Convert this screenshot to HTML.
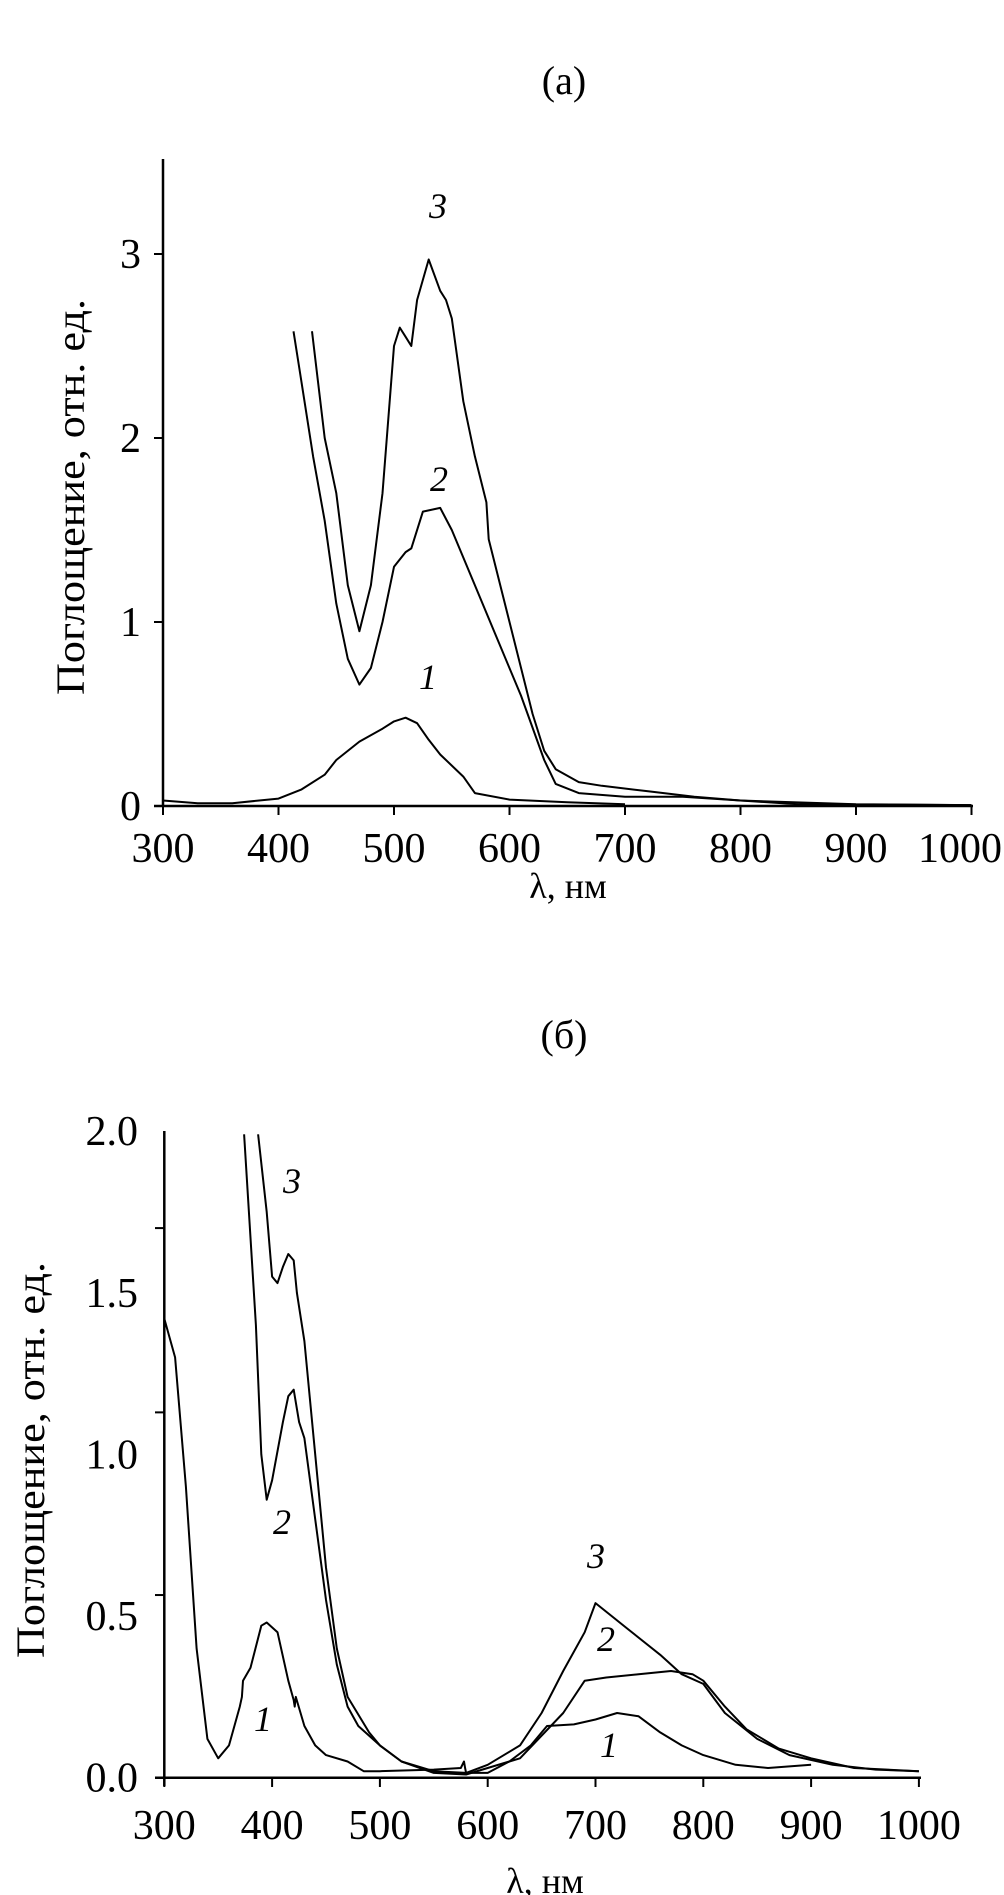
<!DOCTYPE html>
<html><head><meta charset="utf-8"><style>
body{margin:0;background:#fff}
svg{display:block;font-family:"Liberation Serif","DejaVu Serif",serif}
</style></head><body>
<svg id="fig" width="1004" height="1895" viewBox="0 0 1004 1895"></svg>
<script>
// ---------- Panel (a) data ----------
const aX1 = [300,330,360,400,420,440,450,470,490,500,510,520,530,540,560,570,600,650,700];
const aY1 = [0.03,0.015,0.015,0.04,0.09,0.17,0.25,0.35,0.42,0.46,0.48,0.45,0.36,0.28,0.16,0.07,0.035,0.02,0.01];
const aX2 = [413,418,420,430,440,450,460,470,480,490,500,510,515,525,540,550,570,590,610,630,640,660,700,750,800,900,1000];
const aY2 = [2.58,2.38,2.3,1.9,1.55,1.1,0.8,0.66,0.75,1.0,1.3,1.38,1.4,1.6,1.62,1.5,1.2,0.9,0.6,0.25,0.12,0.07,0.05,0.05,0.03,0.01,0.005];
const aX3 = [429,440,450,460,470,480,490,500,505,510,515,520,530,540,545,550,560,570,580,582,600,620,630,640,660,680,720,760,800,850,1000];
const aY3 = [2.58,2.0,1.7,1.2,0.95,1.2,1.7,2.5,2.6,2.55,2.5,2.75,2.97,2.8,2.75,2.65,2.2,1.9,1.65,1.45,1.0,0.5,0.3,0.2,0.13,0.11,0.08,0.05,0.03,0.01,0.005];
const aXTicks = [300,400,500,600,700,800,900,1000];
const aYTicks = [0,1,2,3];

// ---------- Panel (б) data ----------
const bX1 = [300,310,320,330,340,350,360,370,372,373,380,390,395,405,415,420,421,422,430,440,450,470,485,500,550,575,578,579,580,600,620,640,655,680,700,720,740,760,780,800,830,860,900];
const bY1 = [1.42,1.3,0.9,0.4,0.12,0.06,0.1,0.22,0.25,0.3,0.34,0.47,0.48,0.45,0.3,0.24,0.22,0.25,0.16,0.1,0.07,0.05,0.02,0.02,0.025,0.03,0.05,0.03,0.015,0.015,0.05,0.1,0.16,0.165,0.18,0.2,0.19,0.14,0.1,0.07,0.04,0.03,0.04];
const bX2 = [374,385,390,395,400,410,415,420,425,430,440,450,460,470,480,500,520,550,580,600,630,650,670,690,710,740,770,790,800,820,840,870,900,940,1000];
const bY2 = [1.99,1.4,1.0,0.86,0.92,1.1,1.18,1.2,1.1,1.05,0.8,0.55,0.35,0.22,0.16,0.1,0.05,0.015,0.01,0.03,0.06,0.13,0.2,0.3,0.31,0.32,0.33,0.32,0.3,0.22,0.15,0.09,0.06,0.03,0.02];
const bX3 = [387,395,400,405,410,415,420,423,430,440,450,460,470,490,500,520,550,580,600,630,650,670,690,700,730,760,780,800,820,850,880,920,960,1000];
const bY3 = [1.99,1.75,1.55,1.53,1.58,1.62,1.6,1.5,1.35,1.0,0.65,0.4,0.25,0.14,0.1,0.05,0.02,0.015,0.04,0.1,0.2,0.33,0.45,0.54,0.46,0.38,0.32,0.29,0.2,0.12,0.07,0.04,0.025,0.02];
const bXTicks = [300,400,500,600,700,800,900,1000];
const bYLabels = ["0.0","0.5","1.0","1.5","2.0"];
const bYLabelVals = [0,0.5,1.0,1.5,2.0];
const bYTickVals = [0,0.565,1.13,1.7];

const NS = "http://www.w3.org/2000/svg";
const svg = document.getElementById('fig');
function el(tag, attrs, parent){const e=document.createElementNS(NS,tag);for(const k in attrs)e.setAttribute(k,attrs[k]);(parent||svg).appendChild(e);return e;}

const ax = v => 163 + (v-300)*1.155;
const ay = v => 806 - v*184;
const bx = v => 164.3 + (v-300)*1.078;
const by = v => 1777.7 - v*323.3;

function curve(xs, ys, fx, fy, name){
  let d = '';
  xs.forEach((x,i)=>{ d += (i?'L':'M') + fx(x).toFixed(1) + ' ' + fy(ys[i]).toFixed(1) + ' '; });
  const p = el('path',{d:d,fill:'none',stroke:'#000','stroke-width':2,'stroke-linejoin':'round'});
  
  
}
function text(x,y,s,size,name,extra){
  const t = el('text',Object.assign({x:x,y:y,'font-size':size,'text-anchor':'middle'},extra||{}));
  t.textContent = s;
  
  
  return t;
}

// ---- Panel (a) ----
text(564,94,'(а)',40,'panel-a-title');
let line = el('line',{x1:163,y1:159,x2:163,y2:806,stroke:'#000','stroke-width':2.5});


line = el('line',{x1:154,y1:806,x2:973,y2:806,stroke:'#000','stroke-width':2.5});


aXTicks.forEach(v=>{
  const t = el('line',{x1:ax(v),y1:806,x2:ax(v),y2:815,stroke:'#000','stroke-width':2});
  
  
  const x = Math.min(ax(v), 1002 - 42);
  text(x,862,String(v),42,'a-x-tick-label');
});
aYTicks.forEach(v=>{
  const t = el('line',{x1:154,y1:ay(v),x2:163,y2:ay(v),stroke:'#000','stroke-width':2});
  
  
  text(141,ay(v)+14,String(v),42,'a-y-tick-label',{'text-anchor':'end'});
});
text(568,898,'λ, нм',36,'a-x-axis-title');
text(0,0,'Поглощение, отн. ед.',40,'a-y-axis-title',{transform:'translate(84,497) rotate(-90)',textLength:396,lengthAdjust:'spacingAndGlyphs'});
curve(aX1,aY1,ax,ay,'a-curve-1');
curve(aX2,aY2,ax,ay,'a-curve-2');
curve(aX3,aY3,ax,ay,'a-curve-3');
text(438,218,'3',36,'a-label-3',{'font-style':'italic'});
text(439,491,'2',36,'a-label-2',{'font-style':'italic'});
text(428,689,'1',36,'a-label-1',{'font-style':'italic'});

// ---- Panel (б) ----
text(564,1048,'(б)',40,'panel-b-title');
line = el('line',{x1:164.3,y1:1131,x2:164.3,y2:1786,stroke:'#000','stroke-width':2.5});


line = el('line',{x1:155,y1:1777.7,x2:921,y2:1777.7,stroke:'#000','stroke-width':2.5});


bXTicks.forEach(v=>{
  const t = el('line',{x1:bx(v),y1:1777.7,x2:bx(v),y2:1787,stroke:'#000','stroke-width':2});
  
  
  text(bx(v),1839,String(v),42,'b-x-tick-label');
});
bYTickVals.forEach(v=>{
  const t = el('line',{x1:155,y1:by(v),x2:164.3,y2:by(v),stroke:'#000','stroke-width':2});
  
  
});
bYLabelVals.forEach((v,i)=>{
  text(138,by(v)+14,bYLabels[i],42,'b-y-tick-label',{'text-anchor':'end'});
});
text(545,1893,'λ, нм',36,'b-x-axis-title');
text(0,0,'Поглощение, отн. ед.',40,'b-y-axis-title',{transform:'translate(44,1460) rotate(-90)',textLength:396,lengthAdjust:'spacingAndGlyphs'});
curve(bX1,bY1,bx,by,'b-curve-1');
curve(bX2,bY2,bx,by,'b-curve-2');
curve(bX3,bY3,bx,by,'b-curve-3');
text(292,1193,'3',36,'b-label-3-uv',{'font-style':'italic'});
text(282,1534,'2',36,'b-label-2-uv',{'font-style':'italic'});
text(263,1731,'1',36,'b-label-1-uv',{'font-style':'italic'});
text(596,1568,'3',36,'b-label-3-nir',{'font-style':'italic'});
text(606,1651,'2',36,'b-label-2-nir',{'font-style':'italic'});
text(609,1757,'1',36,'b-label-1-nir',{'font-style':'italic'});
</script>
</body></html>
